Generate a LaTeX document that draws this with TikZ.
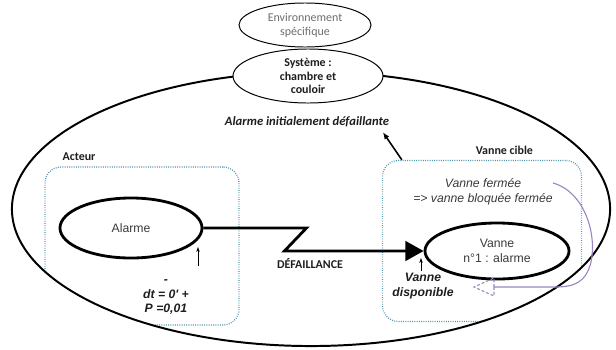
\documentclass[tikz,border=0pt]{standalone}
\usepackage{fontspec}
\usepackage{tikz}
\usetikzlibrary{arrows.meta, positioning, shapes.geometric}
\newfontfamily\calibri{Carlito}
\newfontfamily\arial{Liberation Sans}
\definecolor{zonecol}{HTML}{4E93A6}
\definecolor{retourcol}{HTML}{9A86C0}
\definecolor{gristexte}{HTML}{6E6E6E}
\definecolor{noirtexte}{HTML}{3A3A3A}
\definecolor{grastexte}{HTML}{1E1E1E}

\begin{document}
\begin{tikzpicture}[
    x=0.025cm, y=-0.025cm,
    every node/.style={font=\arial\fontsize{8.7}{10.4}\selectfont, text=noirtexte},
    cal/.style={font=\calibri\fontsize{8.5}{9.8}\selectfont\bfseries, text=grastexte, align=center},
    calit/.style={font=\calibri\fontsize{9}{10}\selectfont\bfseries\itshape, text=grastexte},
    arit/.style={font=\arial\fontsize{8.7}{10.4}\selectfont\bfseries\itshape, text=grastexte, align=center},
    bulle/.style={ellipse, draw, line width=2pt, inner sep=0pt, align=center},
    cadre/.style={ellipse, draw, line width=0.7pt, fill=white, inner sep=0pt, align=center},
    zone/.style={rectangle, draw=zonecol, rounded corners=0.4cm, line width=0.9pt, dash pattern=on 0.6pt off 1pt},
    flow/.style={-{Triangle[length=13pt, width=14pt]}, line width=2pt},
    tick/.style={-{Stealth[length=3.5pt, width=2.5pt]}, line width=0.5pt},
    pointe/.style={-{Latex[length=5pt, width=4pt]}, line width=1.1pt},
    retour/.style={draw=retourcol, line width=0.8pt}
]
\useasboundingbox (0,0) rectangle (616,349);

% Systeme (grande ellipse)
\draw[line width=1.4pt] (311,209) ellipse [x radius=7.475cm, y radius=3.425cm];

% Zones acteur / cible
\begin{scope}
  \clip (311,209) ellipse [x radius=7.45cm, y radius=3.4cm];
  \node[zone, minimum width=4.85cm, minimum height=3.95cm] (acteur) at (142,246) {};
  \node[zone, minimum width=4.975cm, minimum height=4.025cm] (cible) at (482,241) {};
\end{scope}
\node[cal, anchor=base west] (acteurlab) at ([xshift=0.33cm, yshift=0.15cm]acteur.north west) {Acteur};
\node[cal, anchor=base] (ciblelab) at ([xshift=0.56cm, yshift=0.14cm]cible.north) {Vanne cible};

% Environnement et systeme
\node[cadre, minimum width=3.3cm, minimum height=1.1cm, font=\calibri\fontsize{8.5}{10}\selectfont, text=gristexte] (env) at (305,25) {Environnement\\spécifique};
\node[cadre, cal, minimum width=3.75cm, minimum height=1.35cm] (sys) at (308,76) {Système :\\chambre et\\couloir};
\node[calit] (titre) at (307,122) {Alarme initialement défaillante};
\draw[pointe] ([xshift=0.5cm]cible.north west) -- ([xshift=-0.28cm]titre.south east);

% Alarme et vanne
\node[bulle, minimum width=3.55cm, minimum height=1.5cm] (alarme) at (131,228) {Alarme};
\node[bulle, minimum width=3.6cm, minimum height=1.4cm] (vanne) at (497,251) {Vanne\\n°1 : alarme};
\draw[flow] (alarme.east) -- ++(103,0) -- ++(-22,23) -- (vanne.west);
\node[cal] (defail) at (310,264) {DÉFAILLANCE};

% Annotations
\node[arit] (delai) at (166,297) {-\\dt = 0' +\\P =0,01};
\coordinate (atail) at (198,266);
\coordinate (ahead) at (198,247);
\draw[tick] (atail) -- (ahead);
\node[align=center, font=\arial\fontsize{8.7}{10.4}\selectfont\itshape] (ferme) at (483,192) {Vanne fermée\\=> vanne bloquée fermée};
\node[arit] (dispo) at (423,286) {Vanne\\disponible};
\coordinate (vtail) at (421,271);
\coordinate (vhead) at (421,258);
\draw[tick] (vtail) -- (vhead);

% Retour
\coordinate (rdep) at (553,183);
\coordinate (rfin) at (494,287);
\draw[retour] (rdep) .. controls (585,192) and (597,235) .. (591,262) .. controls (586,282) and (575,287) .. (555,287) -- (rfin);
\draw[retour, dash pattern=on 2pt off 1.5pt] (rfin) -- ++(0,-9) -- ++(-20,9) -- ++(20,9) -- cycle;
\end{tikzpicture}
\end{document}
